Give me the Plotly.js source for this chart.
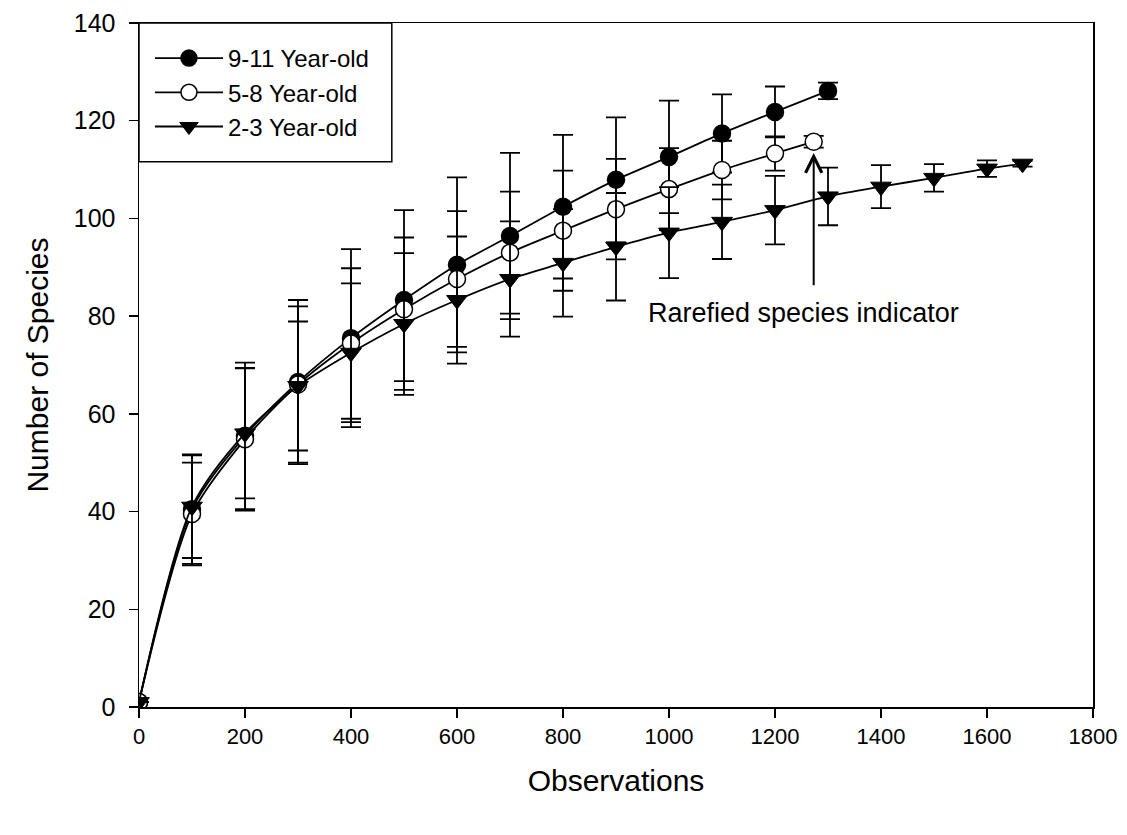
<!DOCTYPE html>
<html>
<head>
<meta charset="utf-8">
<script src="https://cdn.plot.ly/plotly-3.0.1.min.js"></script>
<style>html,body{margin:0;padding:0;background:#fff;}#chart{width:1127px;height:835px;}</style>
</head>
<body>
<div id="chart"></div>
<script>
// Observations (x) for each series
const obs911 = [0,100,200,300,400,500,600,700,800,900,1000,1100,1200,1300];
const obs58  = [0,100,200,300,400,500,600,700,800,900,1000,1100,1200,1273];
const obs23  = [0,100,200,300,400,500,600,700,800,900,1000,1100,1200,1300,1400,1500,1600,1667];

// Number of species
const sp911 = [1,40.5,55.5,66.5,75.5,83.3,90.5,96.4,102.4,107.9,112.6,117.4,121.8,126.1];
const sp58  = [1,39.5,54.8,66,74.4,81.4,87.6,93,97.5,101.9,106,109.9,113.3,115.7];
const sp23  = [1,41,56,65.7,72.5,78.4,83.3,87.6,90.9,94.2,97.1,99.3,101.7,104.5,106.5,108.3,110.2,111.2];

// Error bar half-lengths
const err911 = [0,11.2,15,16.8,18.2,18.4,17.9,17,14.7,12.8,11.5,8,5.2,1.7];
const err58  = [0,10.5,14.6,16,15.4,14.7,13.9,12.5,12.3,10.3,8.4,6,3.5,1.2];
const err23  = [0,10.5,13.3,13.2,14.2,14.5,13,11.8,11,11,9.3,7.6,7,5.9,4.4,2.8,1.7,0.6];

const seriesNames = ['9-11 Year-old','5-8 Year-old','2-3 Year-old'];
const xTicks = [0,200,400,600,800,1000,1200,1400,1600,1800];
const yTicks = [0,20,40,60,80,100,120,140];
const annotationText = 'Rarefied species indicator';

const FONT = 'Liberation Sans, Arial, sans-serif';
function errObj(arr){
  return {type:'data', array:arr, visible:true, color:'#000', thickness:1.8, width:10};
}
const traces = [
  {x:obs911, y:sp911, name:seriesNames[0], type:'scatter', mode:'lines+markers',
   line:{color:'#000', width:1.8, shape:'spline', smoothing:0.8},
   marker:{symbol:'circle', size:17, color:'#000', line:{color:'#000', width:1.5}},
   error_y:errObj(err911)},
  {x:obs58, y:sp58, name:seriesNames[1], type:'scatter', mode:'lines+markers',
   line:{color:'#000', width:1.8, shape:'spline', smoothing:0.8},
   marker:{symbol:'circle', size:17, color:'#fff', line:{color:'#000', width:1.5}},
   error_y:errObj(err58)},
  {x:obs23, y:sp23, name:seriesNames[2], type:'scatter', mode:'lines+markers',
   line:{color:'#000', width:1.8, shape:'spline', smoothing:0.8},
   marker:{symbol:'triangle-down', size:18, color:'#000', line:{color:'#000', width:1}},
   error_y:errObj(err23)}
];
const lastX58 = obs58[obs58.length-1];
const layout = {
  width:1127, height:835,
  margin:{l:139, r:34, t:23, b:128},
  paper_bgcolor:'#fff', plot_bgcolor:'#fff',
  font:{family:FONT, color:'#000', size:24},
  showlegend:true,
  legend:{x:0.0115, y:0.981, xanchor:'left', yanchor:'top', borderwidth:0,
          bgcolor:'rgba(0,0,0,0)', font:{family:FONT, size:24, color:'#000'}, itemwidth:68,
          traceorder:'normal'},
  shapes:[
    {type:'rect', xref:'paper', yref:'paper', x0:0, x1:0.265, y0:0.797, y1:1,
     line:{color:'#000', width:1.5}, fillcolor:'#fff', layer:'above'}
  ],
  xaxis:{range:[0,1800], tickvals:xTicks, ticktext:xTicks.map(String),
         showgrid:false, zeroline:false, showline:true, linecolor:'#000', linewidth:1.5,
         mirror:true, ticks:'outside', ticklen:9, tickwidth:1.5, tickcolor:'#000',
         tickfont:{family:FONT, size:22, color:'#000'},
         title:{text:'Observations', font:{family:FONT, size:30, color:'#000'}, standoff:22}},
  yaxis:{range:[0,140], tickvals:yTicks, ticktext:yTicks.map(String),
         showgrid:false, zeroline:false, showline:true, linecolor:'#000', linewidth:1.5,
         mirror:true, ticks:'outside', ticklen:9, tickwidth:1.5, tickcolor:'#000',
         ticklabelstandoff:8,
         tickfont:{family:FONT, size:25, color:'#000'},
         title:{text:'Number of Species', font:{family:FONT, size:30, color:'#000'}, standoff:16}},
  annotations:[
    {x:lastX58, y:113.4, xref:'x', yref:'y', ax:lastX58, ay:86, axref:'x', ayref:'y',
     showarrow:true, arrowhead:5, arrowsize:1.6, arrowwidth:2, arrowcolor:'#000', text:''},
    {x:1254, y:80.6, xref:'x', yref:'y', showarrow:false, text:annotationText,
     font:{family:FONT, size:27, color:'#000'}}
  ]
};
Plotly.newPlot('chart', traces, layout, {displayModeBar:false, staticPlot:true});
</script>
</body>
</html>
